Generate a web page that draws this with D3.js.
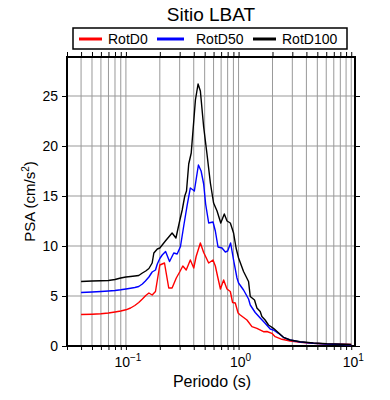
<!DOCTYPE html>
<html>
<head>
<meta charset="utf-8">
<script src="https://cdn.jsdelivr.net/npm/d3@7"></script>
<style>
  body { margin: 0; background: #fff; }
  text { font-family: "Liberation Sans", Arial, sans-serif; }
</style>
</head>
<body>
<div id="chart"></div>
<script>
// Data (period in s, PSA in cm/s^2)
//==========================================================
var periodsD0 = [0.04,0.05,0.06,0.07,0.08,0.09,0.1,0.11,0.12,0.13,0.14,0.15,0.16,0.171,0.183,0.2,0.22,0.24,0.257,0.28,0.3,0.32,0.343,0.373,0.4,0.42,0.458,0.49,0.543,0.593,0.622,0.65,0.69,0.737,0.789,0.845,0.885,0.935,0.99,1.035,1.187,1.314,1.455,1.664,1.785,1.975,2.113,2.422,2.868,3.52,4.61,6.06,8.51,10];
var rotD0 = [3.15,3.18,3.22,3.3,3.4,3.5,3.62,3.8,4.05,4.35,4.7,5.05,5.3,5.1,5.45,8.1,8.3,5.8,5.8,6.8,7.4,8.0,7.6,8.6,7.8,8.95,10.3,9.35,8.3,8.6,8.0,7.0,5.7,6.6,5.7,5.45,4.35,4.3,3.3,3.1,2.6,1.94,1.77,1.43,1.45,1.27,0.93,0.67,0.5,0.37,0.27,0.2,0.17,0.15];

var periodsD50 = [0.04,0.05,0.06,0.07,0.08,0.09,0.1,0.11,0.12,0.13,0.14,0.149,0.16,0.171,0.183,0.19,0.2,0.21,0.225,0.244,0.266,0.285,0.305,0.326,0.35,0.373,0.395,0.405,0.44,0.465,0.49,0.51,0.543,0.593,0.622,0.657,0.713,0.763,0.8,0.85,0.903,0.968,1.0,1.107,1.226,1.27,1.405,1.556,1.72,1.91,2.04,2.26,2.5,2.87,3.52,4.61,6.06,8.51,10];
var rotD50 = [5.35,5.4,5.45,5.5,5.55,5.62,5.7,5.78,5.85,5.95,6.2,6.5,6.9,7.4,7.6,8.2,8.75,9.1,9.45,8.45,9.3,9.2,9.95,12.0,14.1,15.8,15.6,15.5,18.1,17.5,16.2,14.2,12.3,12.4,11.5,9.9,9.8,9.4,9.5,10.3,8.6,6.8,6.3,5.6,4.7,4.1,3.35,2.8,2.28,1.7,1.6,1.27,0.87,0.6,0.4,0.27,0.2,0.15,0.12];

var periodsD100 = [0.04,0.05,0.06,0.07,0.08,0.09,0.1,0.11,0.12,0.13,0.14,0.15,0.16,0.171,0.177,0.19,0.2,0.224,0.257,0.278,0.3,0.316,0.333,0.345,0.361,0.38,0.414,0.437,0.458,0.49,0.525,0.562,0.6,0.644,0.695,0.747,0.79,0.845,0.903,0.95,1.0,1.107,1.226,1.27,1.385,1.455,1.556,1.61,1.72,1.843,2.04,2.26,2.5,2.87,3.52,4.61,6.06,8.51,10];
var rotD100 = [6.45,6.5,6.52,6.55,6.65,6.8,6.9,6.95,7.0,7.05,7.3,7.5,7.75,8.3,9.3,9.7,9.8,10.5,11.3,10.8,12.5,13.6,15.0,15.5,18.2,19.3,24.6,26.2,25.5,21.9,19.15,16.3,14.3,13.5,12.3,13.2,12.5,12.3,11.3,9.8,8.8,7.45,6.45,4.95,4.6,3.8,3.45,2.95,2.6,2.1,1.77,1.33,0.87,0.6,0.43,0.3,0.22,0.18,0.15];

var seriesNames = ["RotD0", "RotD50", "RotD100"];
var seriesColors = ["#ff0000", "#0000ff", "#000000"];

var yTicks = [0, 5, 10, 15, 20, 25];
var xMajorTicks = [0.1, 1, 10];
var xMajorExp = ["\u22121", "0", "1"];

// Set up the chart
//=================================
var svgWidth = 390;
var svgHeight = 400;
var margin = { top: 57, right: 35, bottom: 54, left: 67 };
var width = svgWidth - margin.left - margin.right;
var height = svgHeight - margin.top - margin.bottom;

var svg = d3.select("#chart")
  .append("svg")
  .attr("width", svgWidth)
  .attr("height", svgHeight);

var chartGroup = svg.append("g")
  .attr("transform", `translate(${margin.left}, ${margin.top})`);

var xScale = d3.scaleLog()
  .domain([0.03, 10.8])
  .range([0, width]);

var yScale = d3.scaleLinear()
  .domain([0, 28.9])
  .range([height, 0]);

// minor log ticks 1..9 in every decade
var xMinor = [];
[0.01, 0.1, 1, 10].forEach(function(dec) {
  for (var k = 1; k <= 9; k++) {
    var v = +(dec * k).toPrecision(3);
    if (v >= 0.03 && v <= 10.8) xMinor.push(v);
  }
});

// Grid lines
//=================================
chartGroup.append("g")
  .selectAll("line")
  .data(xMinor)
  .enter()
  .append("line")
  .attr("x1", d => xScale(d))
  .attr("x2", d => xScale(d))
  .attr("y1", 0)
  .attr("y2", height)
  .attr("stroke", "#999")
  .attr("stroke-width", 1);

chartGroup.append("g")
  .selectAll("line")
  .data(yTicks.filter(d => d > 0))
  .enter()
  .append("line")
  .attr("x1", 0)
  .attr("x2", width)
  .attr("y1", d => yScale(d))
  .attr("y2", d => yScale(d))
  .attr("stroke", "#999")
  .attr("stroke-width", 1);

// Axes (ticks on all four sides)
//=================================
function styleAxis(g) {
  g.select(".domain").remove();
  g.selectAll("line").attr("stroke", "#000").attr("stroke-width", 1);
}

var bottomAxis = d3.axisBottom(xScale).tickValues(xMinor).tickSize(4).tickFormat("");
chartGroup.append("g")
  .attr("transform", `translate(0, ${height})`)
  .call(bottomAxis)
  .call(styleAxis);

var topAxis = d3.axisTop(xScale).tickValues(xMinor).tickSize(5).tickFormat("");
chartGroup.append("g")
  .call(topAxis)
  .call(styleAxis);

var leftAxis = d3.axisLeft(yScale).tickValues(yTicks).tickSize(5).tickPadding(4).tickFormat(d3.format("d"));
var yAxis = chartGroup.append("g")
  .call(leftAxis)
  .call(styleAxis);
yAxis.selectAll("text")
  .attr("font-size", "14px")
  .attr("fill", "#000")
  .style("font-family", "'Liberation Sans', Arial, sans-serif");

var rightAxis = d3.axisRight(yScale).tickValues(yTicks).tickSize(5).tickFormat("");
chartGroup.append("g")
  .attr("transform", `translate(${width}, 0)`)
  .call(rightAxis)
  .call(styleAxis);

// x tick labels with superscript exponents
var xLabels = chartGroup.append("g")
  .selectAll("text")
  .data(xMajorTicks)
  .enter()
  .append("text")
  .attr("x", d => xScale(d) + 2)
  .attr("y", height + 21)
  .attr("text-anchor", "middle")
  .attr("font-size", "14px");
xLabels.append("tspan").text("10");
xLabels.append("tspan")
  .attr("dy", -6)
  .attr("font-size", "10px")
  .text((d, i) => xMajorExp[i]);

// Frame
chartGroup.append("rect")
  .attr("x", 0)
  .attr("y", 0)
  .attr("width", width)
  .attr("height", height)
  .attr("fill", "none")
  .attr("stroke", "#000")
  .attr("stroke-width", 2);

// Lines
//=================================
var line = d3.line()
  .x(d => xScale(d[0]))
  .y(d => yScale(d[1]));

var seriesData = [
  d3.zip(periodsD0, rotD0),
  d3.zip(periodsD50, rotD50),
  d3.zip(periodsD100, rotD100)
];

chartGroup.selectAll(".curve")
  .data(seriesData)
  .enter()
  .append("path")
  .attr("class", "curve")
  .attr("d", line)
  .attr("fill", "none")
  .attr("stroke", (d, i) => seriesColors[i])
  .attr("stroke-width", 1.4)
  .attr("stroke-linejoin", "round");

// Title, axis labels
//=================================
svg.append("text")
  .attr("x", margin.left + width / 2)
  .attr("y", 21)
  .attr("text-anchor", "middle")
  .attr("font-size", "19px")
  .text("Sitio LBAT");

svg.append("text")
  .attr("x", margin.left + width / 2 + 1)
  .attr("y", 387)
  .attr("text-anchor", "middle")
  .attr("font-size", "16px")
  .text("Periodo (s)");

var yLabel = svg.append("text")
  .attr("transform", `translate(35, ${margin.top + height / 2}) rotate(-90)`)
  .attr("text-anchor", "middle")
  .attr("font-size", "15px");
yLabel.append("tspan").text("PSA (cm/s");
yLabel.append("tspan").attr("dy", -6).attr("font-size", "10px").text("2");
yLabel.append("tspan").attr("dy", 6).text(")");

// Legend
//=================================
var legend = svg.append("g");
legend.append("rect")
  .attr("x", 73)
  .attr("y", 28)
  .attr("width", 274)
  .attr("height", 21)
  .attr("fill", "#fff")
  .attr("stroke", "#000")
  .attr("stroke-width", 1.5);

var legendX = [79, 157, 253];
var legendItems = legend.selectAll(".item")
  .data(seriesNames)
  .enter()
  .append("g")
  .attr("class", "item")
  .attr("transform", (d, i) => `translate(${legendX[i]}, 39)`);

legendItems.append("line")
  .attr("x1", 0)
  .attr("x2", (d, i) => i === 1 ? 27 : 23)
  .attr("y1", 0)
  .attr("y2", 0)
  .attr("stroke", (d, i) => seriesColors[i])
  .attr("stroke-width", 3);

legendItems.append("text")
  .attr("x", (d, i) => i === 1 ? 39 : 29)
  .attr("y", 5)
  .attr("font-size", "14px")
  .text(d => d);
</script>
</body>
</html>
